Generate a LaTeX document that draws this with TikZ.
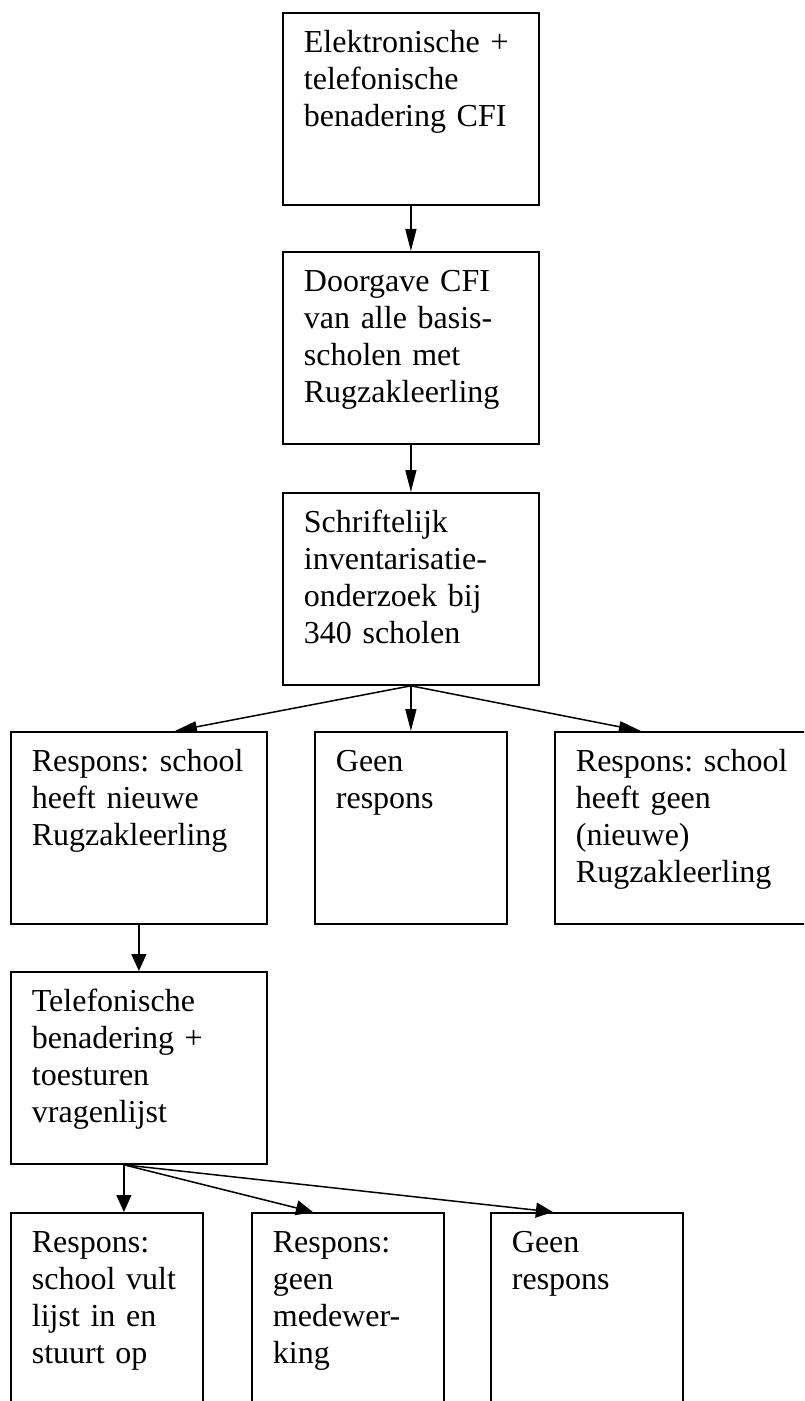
\documentclass[tikz,border=0pt]{standalone}
\usepackage{fontspec}
\setmainfont{Liberation Serif}
\usetikzlibrary{arrows.meta}

\begin{document}
\begin{tikzpicture}[x=0.5pt,y=-0.5pt,
    stepbox/.style={draw,line width=0.9pt,anchor=north west,align=left,inner xsep=10.5pt,inner ysep=0pt,
      text height=20pt,text depth=76pt,font=\fontsize{16pt}{18.5pt}\selectfont\frenchspacing},
    wide/.style={stepbox,text width=107pt},
    narrow/.style={stepbox,text width=75pt},
    longtip/.style={-{Triangle[length=11pt,width=5.5pt]},line width=0.75pt},
    shorttip/.style={-{Triangle[length=8.5pt,width=7.5pt]},line width=0.75pt}]
                \useasboundingbox (0,0) rectangle (804,1401);
                \clip (0,0) rectangle (804,1401);

                \node[wide] (contact) at (282,12) {Elektronische +\\telefonische\\benadering CFI};
                \node[wide] (transfer) at (282,251) {Doorgave CFI\\van alle basis-\\scholen met\\Rugzakleerling};
                \node[wide] (survey) at (282,492) {Schriftelijk\\inventarisatie-\\onderzoek bij\\340 scholen};
                \node[wide] (yesnew) at (10,731) {Respons:~school\\heeft nieuwe\\Rugzakleerling};
                \node[narrow] (noresp) at (314,731) {Geen\\respons};
                \node[wide] (nonew) at (554,731) {Respons:~school\\heeft geen\\(nieuwe)\\Rugzakleerling};
                \node[wide] (phone) at (10,971) {Telefonische\\benadering +\\toesturen\\vragenlijst};
                \node[narrow] (filled) at (10,1212) {Respons:\\school~vult\\lijst in en\\stuurt op};
                \node[narrow] (refused) at (251,1212) {Respons:\\geen\\medewer-\\king};
                \node[narrow] (silent) at (490,1212) {Geen\\respons};

                \draw[longtip] (contact.south) to (transfer.north); \draw[longtip] (transfer.south) to (survey.north);
                \draw[longtip] (survey.south) to ([xshift=18pt]yesnew.north); \draw[longtip] (survey.south) to (noresp.north); \draw[longtip] (survey.south) to ([xshift=-21pt]nonew.north);
                \draw[shorttip] (yesnew.south) to (phone.north);
                \draw[shorttip] ([xshift=-7.5pt]phone.south) to ([xshift=8.5pt]filled.north); \draw[shorttip] ([xshift=-7.5pt]phone.south) to ([xshift=-17.5pt]refused.north); \draw[shorttip] ([xshift=-7.5pt]phone.south) to ([xshift=-17pt]silent.north);
            \end{tikzpicture}
\end{document}
